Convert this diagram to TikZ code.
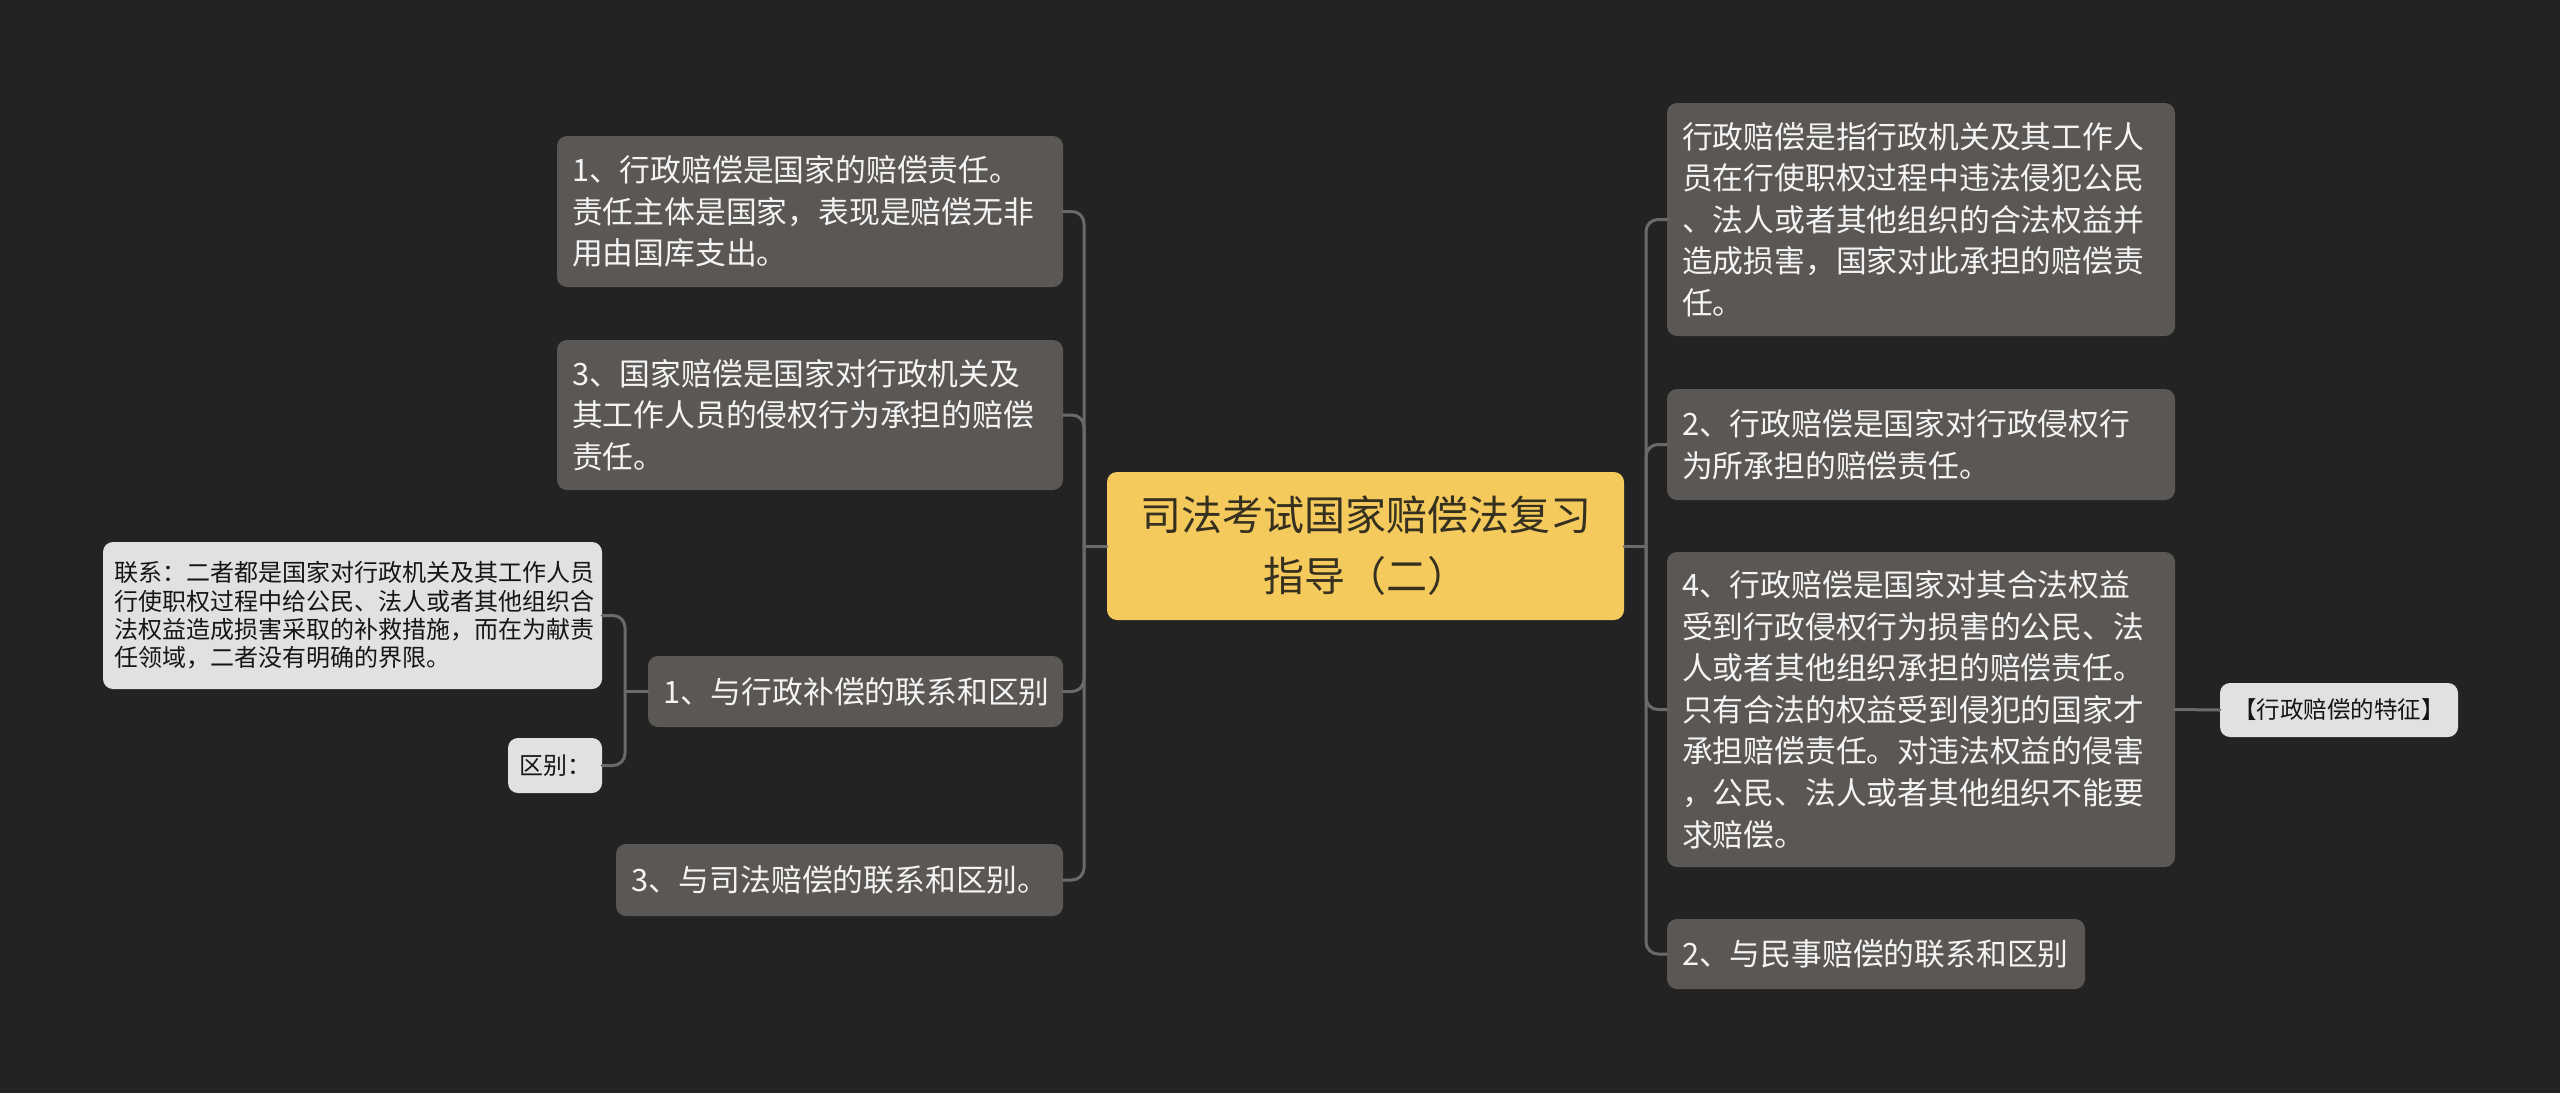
\documentclass[tikz,border=0pt]{standalone}
\usepackage{fontspec}
\newfontfamily\cjk{Noto Sans CJK SC}
\definecolor{bg}{HTML}{232323}
\definecolor{nodegray}{HTML}{5A5754}
\definecolor{nodetext}{HTML}{F4F4F4}
\definecolor{lightnode}{HTML}{E1E1E1}
\definecolor{lighttext}{HTML}{151515}
\definecolor{rootfill}{HTML}{F5CA5C}
\definecolor{roottext}{HTML}{35301F}
\definecolor{conncol}{HTML}{6A6A6A}
\tikzset{
  base/.style={rounded corners=10pt, inner ysep=0pt, anchor=center},
  dark/.style={base, fill=nodegray, text=nodetext, align=left, inner xsep=15pt,
     font=\cjk\fontsize{30.8}{41.6}\selectfont},
  light/.style={base, fill=lightnode, text=lighttext, align=left, inner xsep=11pt,
     font=\cjk\fontsize{24}{28.4}\selectfont},
  lightsmall/.style={base, fill=lightnode, text=lighttext, align=center, inner xsep=0pt,
     font=\cjk\fontsize{23.5}{28}\selectfont},
  rootnode/.style={base, fill=rootfill, text=roottext, align=center, inner xsep=0pt,
     font=\cjk\fontsize{41}{61}\selectfont},
  conn/.style={draw=conncol, line width=3pt, rounded corners=12pt, line cap=round}
}
\begin{document}
\begin{tikzpicture}[x=1pt,y=-1pt]
\fill[bg] (0,0) rectangle (2560,1093);
\useasboundingbox (0,0) rectangle (2560,1093);

% root
\node[rootnode, text width=517pt, minimum height=148pt] (root) at (1365.5,546)
  {司法考试国家赔偿法复习\\指导（二）};

% left side
\node[dark, text width=476pt, minimum height=151pt] (a1) at (810,211.5)
  {1、行政赔偿是国家的赔偿责任。\\责任主体是国家，表现是赔偿无非\\用由国库支出。};
\node[dark, text width=476pt, minimum height=150pt] (a2) at (810,415)
  {3、国家赔偿是国家对行政机关及\\其工作人员的侵权行为承担的赔偿\\责任。};
\node[dark, text width=385pt, minimum height=71pt] (l1) at (855.5,691.5)
  {1、与行政补偿的联系和区别};
\node[dark, text width=417pt, minimum height=72pt] (l2) at (839.5,880)
  {3、与司法赔偿的联系和区别。};

\node[light, text width=477pt, minimum height=147pt] (ll1) at (352.5,615.5)
  {联系：二者都是国家对行政机关及其工作人员\\行使职权过程中给公民、法人或者其他组织合\\法权益造成损害采取的补救措施，而在为献责\\任领域，二者没有明确的界限。};
\node[light, text width=72pt, minimum height=55pt] (ll2) at (555,765.5)
  {区别：};

% right side
\node[dark, text width=478pt, minimum height=233pt] (r1) at (1921,219.5)
  {行政赔偿是指行政机关及其工作人\\员在行使职权过程中违法侵犯公民\\、法人或者其他组织的合法权益并\\造成损害，国家对此承担的赔偿责\\任。};
\node[dark, text width=478pt, minimum height=111pt] (r2) at (1921,444.5)
  {2、行政赔偿是国家对行政侵权行\\为所承担的赔偿责任。};
\node[dark, text width=478pt, minimum height=315pt] (r3) at (1921,709.5)
  {4、行政赔偿是国家对其合法权益\\受到行政侵权行为损害的公民、法\\人或者其他组织承担的赔偿责任。\\只有合法的权益受到侵犯的国家才\\承担赔偿责任。对违法权益的侵害\\，公民、法人或者其他组织不能要\\求赔偿。};
\node[dark, text width=388pt, minimum height=70pt] (r4) at (1876,954)
  {2、与民事赔偿的联系和区别};
\node[lightsmall, text width=238pt, minimum height=54pt] (r3c) at (2339,710)
  {【行政赔偿的特征】};

% connectors
\coordinate (lt) at (1084,546);
\coordinate (rt) at (1646,546);
\coordinate (st) at (625,691.5);

\draw[conn] (root.west) -- (lt);
\draw[conn] (a1.east) -| (lt);
\draw[conn] (a2.east) -| (lt);
\draw[conn] (l1.east) -| (lt);
\draw[conn] (l2.east) -| (lt);

\draw[conn] (root.east) -- (rt);
\draw[conn] (rt) |- (r1.west);
\draw[conn] (rt) |- (r2.west);
\draw[conn] (rt) |- (r3.west);
\draw[conn] (rt) |- (r4.west);

\draw[conn] (r3.east) -- (r3c.west);

\draw[conn] (l1.west) -- (st);
\draw[conn] (st) |- (ll1.east);
\draw[conn] (st) |- (ll2.east);
\end{tikzpicture}
\end{document}
